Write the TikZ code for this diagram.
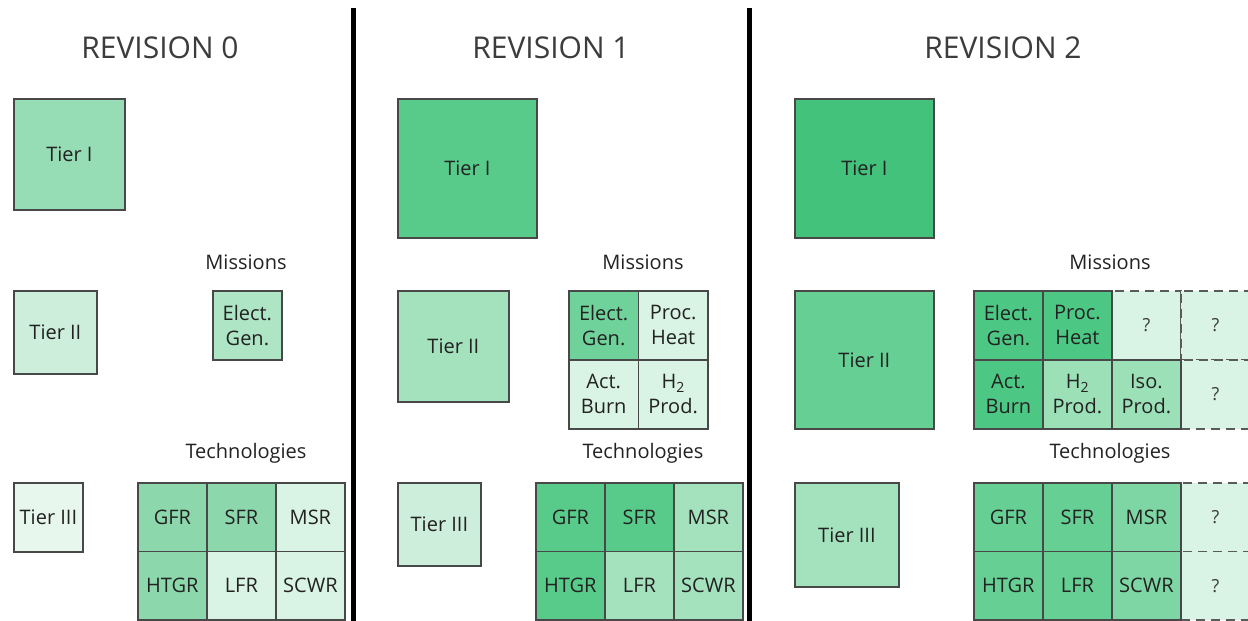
\documentclass[tikz,border=0pt]{standalone}
\usepackage{fontspec}
\setmainfont{Open Sans}
\definecolor{edgegray}{HTML}{484848}
\definecolor{dashgray}{HTML}{5A5A5A}
\definecolor{qtext}{HTML}{3A3A3A}
\definecolor{labeltext}{HTML}{222222}
\definecolor{titletext}{HTML}{3C3C3C}
% greens, from darkest to palest
\definecolor{gA}{HTML}{42C27B}
\definecolor{gB}{HTML}{4CC784}
\definecolor{gC}{HTML}{58CB8A}
\definecolor{gD}{HTML}{66CF94}
\definecolor{gE}{HTML}{6FD29A}
\definecolor{gF}{HTML}{7DD6A3}
\definecolor{gG}{HTML}{8CD8AC}
\definecolor{gH}{HTML}{96DCB4}
\definecolor{gI}{HTML}{9CE0B8}
\definecolor{gJ}{HTML}{A4E2BE}
\definecolor{gK}{HTML}{AEE5C5}
\definecolor{gL}{HTML}{CDEEDB}
\definecolor{gM}{HTML}{D9F3E4}
\definecolor{gN}{HTML}{E8F7EE}
\tikzset{
  box/.style={draw=edgegray, line width=1.8pt, inner sep=0pt, anchor=north west,
    align=center, text=labeltext, font=\fontsize{20}{25}\selectfont},
  cell/.style={box, minimum width=69pt, minimum height=68.5pt},
  qcell/.style={cell, draw=dashgray, dash pattern=on 9pt off 6pt, fill=gM,
    text=qtext, font=\fontsize{18}{20}\selectfont},
  title/.style={text=titletext, font=\fontsize{30}{34}\selectfont},
  caption/.style={text=labeltext, font=\fontsize{20}{24}\selectfont},
  divider/.style={line width=5pt, black}
}
\begin{document}
\begin{tikzpicture}[x=1pt, y=-1pt]
\useasboundingbox (0,0) rectangle (1248,621);
\fill[white] (0,0) rectangle (1248,621);

% column dividers
\coordinate (d1t) at (353,8);  \coordinate (d1b) at (353,621);
\coordinate (d2t) at (749,8);  \coordinate (d2b) at (749,621);
\draw[divider] (d1t) -- (d1b);
\draw[divider] (d2t) -- (d2b);

% ---------------- Revision 0 ----------------
\node[title] (r0title) at (160,48) {REVISION 0};
\node[box, fill=gH, minimum width=111pt, minimum height=111pt] (r0t1) at (13,98) {Tier I};
\node[box, fill=gL, minimum width=83pt, minimum height=83pt] (r0t2) at (13,290) {Tier II};
\node[box, fill=gN, minimum width=69pt, minimum height=69pt] (r0t3) at (13,482) {Tier III};
\node[caption] (r0mis) at (246,262) {Missions};
\node[cell, fill=gK, minimum height=69pt] (r0m1) at (212,290) {Elect.\\Gen.};
\node[caption] (r0tech) at (246,453) {Technologies};
\node[cell, fill=gG] (r0gfr)  at (137,482)   {GFR};
\node[cell, fill=gG] (r0sfr)  at (206,482)   {SFR};
\node[cell, fill=gM] (r0msr)  at (275,482)   {MSR};
\node[cell, fill=gG] (r0htgr) at (137,550.5) {HTGR};
\node[cell, fill=gM] (r0lfr)  at (206,550.5) {LFR};
\node[cell, fill=gM] (r0scwr) at (275,550.5) {SCWR};

% ---------------- Revision 1 ----------------
\node[title] (r1title) at (551,48) {REVISION 1};
\node[box, fill=gC, minimum width=139pt, minimum height=139pt] (r1t1) at (397,98) {Tier I};
\node[box, fill=gJ, minimum width=111pt, minimum height=111pt] (r1t2) at (397,290) {Tier II};
\node[box, fill=gL, minimum width=83pt, minimum height=83pt] (r1t3) at (397,482) {Tier III};
\node[caption] (r1mis) at (643,262) {Missions};
\node[cell, fill=gE, minimum width=69.5pt, minimum height=69pt] (r1m1) at (568,290)   {Elect.\\Gen.};
\node[cell, fill=gM, minimum width=69.5pt, minimum height=69pt] (r1m2) at (637.5,290) {Proc.\\Heat};
\node[cell, fill=gM, minimum width=69.5pt, minimum height=69pt] (r1m3) at (568,359)   {Act.\\Burn};
\node[cell, fill=gM, minimum width=69.5pt, minimum height=69pt] (r1m4) at (637.5,359) {H\textsubscript{2}\\Prod.};
\node[caption] (r1tech) at (643,453) {Technologies};
\node[cell, fill=gC] (r1gfr)  at (535,482)   {GFR};
\node[cell, fill=gC] (r1sfr)  at (604,482)   {SFR};
\node[cell, fill=gJ] (r1msr)  at (673,482)   {MSR};
\node[cell, fill=gC] (r1htgr) at (535,550.5) {HTGR};
\node[cell, fill=gJ] (r1lfr)  at (604,550.5) {LFR};
\node[cell, fill=gJ] (r1scwr) at (673,550.5) {SCWR};

% ---------------- Revision 2 ----------------
\node[title] (r2title) at (1003,48) {REVISION 2};
\node[box, fill=gA, minimum width=139pt, minimum height=139pt] (r2t1) at (794,98) {Tier I};
\node[box, fill=gD, minimum width=139pt, minimum height=138pt] (r2t2) at (794,290) {Tier II};
\node[box, fill=gJ, minimum width=104pt, minimum height=104pt] (r2t3) at (794,482) {Tier III};
\node[caption] (r2mis) at (1110,262) {Missions};
% open (dashed) slots first, so solid edges sit on top
\node[qcell, minimum height=69pt] (r2q1) at (1111,290) {?};
\node[qcell, minimum height=69pt] (r2q2) at (1180,290) {?};
\node[qcell, minimum height=69pt] (r2q3) at (1180,359) {?};
\node[cell, fill=gB, minimum height=69pt] (r2m1) at (973,290)  {Elect.\\Gen.};
\node[cell, fill=gB, minimum height=69pt] (r2m2) at (1042,290) {Proc.\\Heat};
\node[cell, fill=gB, minimum height=69pt] (r2m3) at (973,359)  {Act.\\Burn};
\node[cell, fill=gI, minimum height=69pt] (r2m4) at (1042,359) {H\textsubscript{2}\\Prod.};
\node[cell, fill=gI, minimum height=69pt] (r2m5) at (1111,359) {Iso.\\Prod.};
\node[caption] (r2tech) at (1110,453) {Technologies};
\node[qcell] (r2q4) at (1180,482)   {?};
\node[qcell] (r2q5) at (1180,550.5) {?};
\node[cell, fill=gD] (r2gfr)  at (973,482)    {GFR};
\node[cell, fill=gD] (r2sfr)  at (1042,482)   {SFR};
\node[cell, fill=gF] (r2msr)  at (1111,482)   {MSR};
\node[cell, fill=gD] (r2htgr) at (973,550.5)  {HTGR};
\node[cell, fill=gD] (r2lfr)  at (1042,550.5) {LFR};
\node[cell, fill=gF] (r2scwr) at (1111,550.5) {SCWR};
\end{tikzpicture}
\end{document}
